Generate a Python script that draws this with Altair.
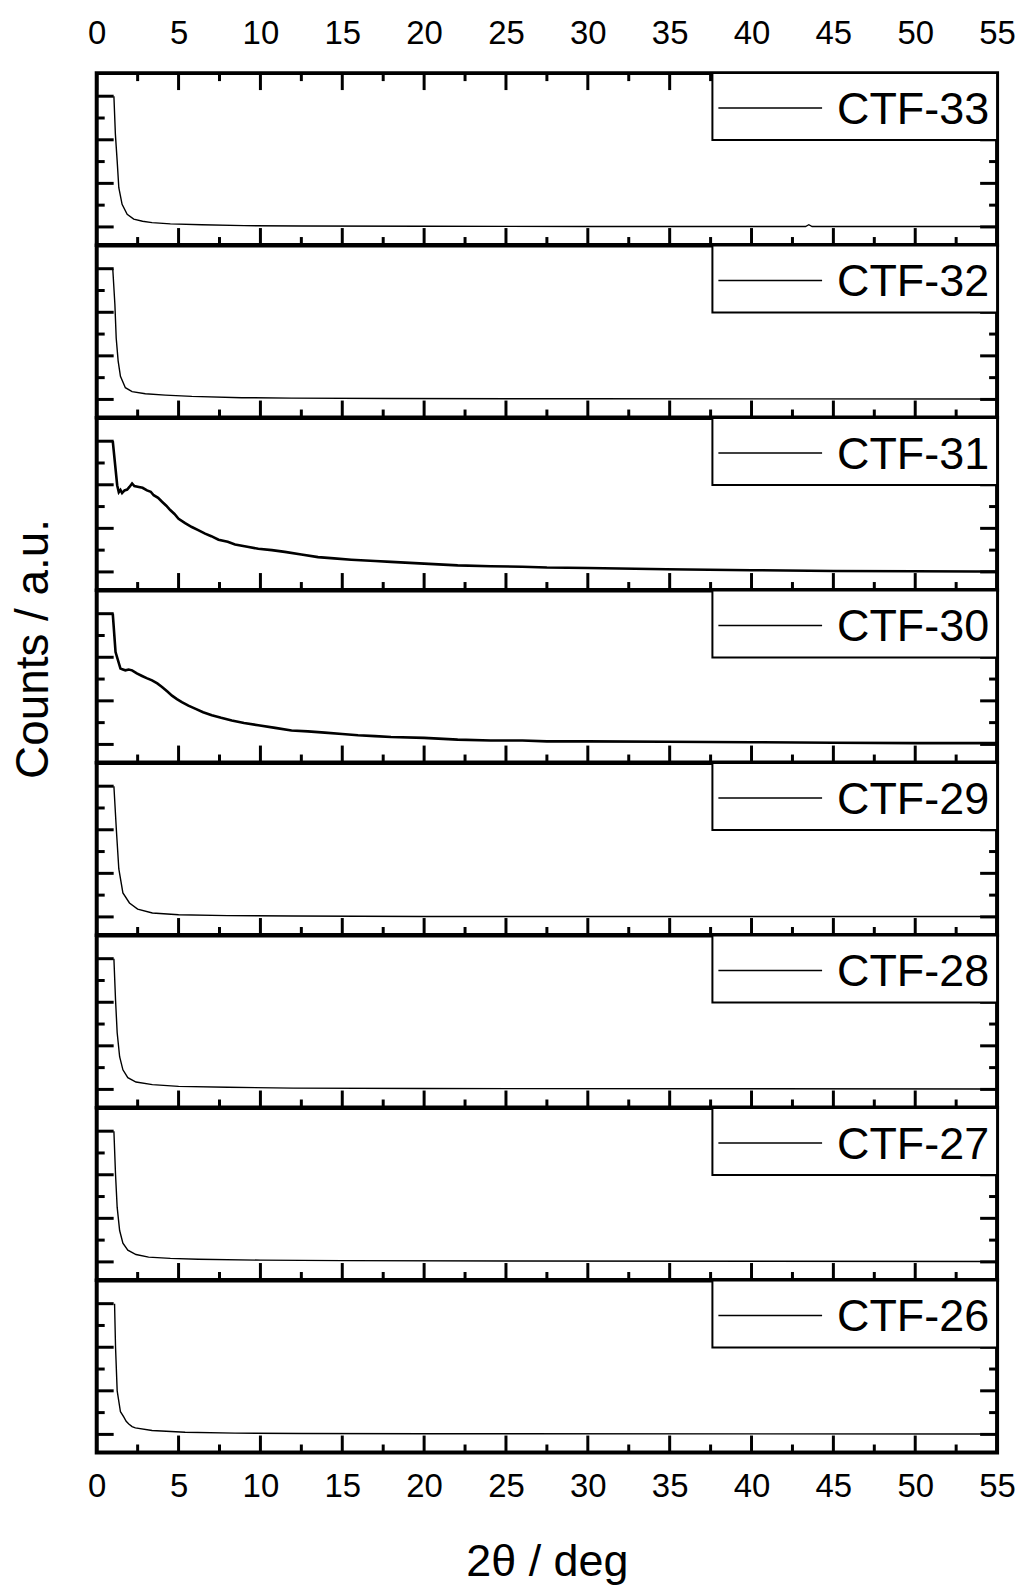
import altair as alt
import pandas as pd

# ---------------- data ----------------
names = ["CTF-33", "CTF-32", "CTF-31", "CTF-30", "CTF-29", "CTF-28", "CTF-27", "CTF-26"]

x_33 = [1.05, 1.14, 1.25, 1.35, 1.55, 1.86, 2.26, 2.8, 3.38, 4.5, 6.42, 9.0, 12.5, 20.0, 30.0, 43.3, 43.5, 43.7, 55.0]
y_33 = [3.0, 2.13, 1.51, 0.90, 0.52, 0.29, 0.18, 0.13, 0.10, 0.07, 0.05, 0.03, 0.02, 0.015, 0.01, 0.01, 0.05, 0.01, 0.01]

x_32 = [0.98, 1.11, 1.19, 1.31, 1.45, 1.75, 2.16, 2.97, 4.19, 5.81, 8.86, 11.9, 17.98, 30.0, 55.0]
y_32 = [3.0, 2.18, 1.41, 0.88, 0.53, 0.27, 0.18, 0.13, 0.10, 0.07, 0.04, 0.03, 0.02, 0.015, 0.01]

x_31 = [0.98, 1.25, 1.35, 1.45, 1.55, 1.7, 1.86, 2.0, 2.16, 2.3, 2.57, 2.8, 3.07, 3.3, 3.48, 3.75,
        3.99, 4.25, 4.49, 4.75, 5.0, 5.4, 5.81, 6.2, 6.62, 7.0, 7.44, 8.0, 8.45, 9.2, 9.87, 10.7,
        11.49, 12.5, 13.52, 14.5, 15.55, 17.0, 17.98, 20.0, 22.05, 24.07, 26.0, 27.5, 30.0, 34.8,
        40.0, 45.0, 50.0, 53.7, 55.0]
y_31 = [3.0, 1.99, 1.83, 1.88, 1.81, 1.87, 1.89, 1.95, 2.03, 1.97, 1.95, 1.93, 1.87, 1.84, 1.76, 1.70,
        1.61, 1.52, 1.42, 1.33, 1.22, 1.12, 1.03, 0.96, 0.88, 0.82, 0.74, 0.69, 0.63, 0.58, 0.53, 0.50,
        0.46, 0.40, 0.34, 0.31, 0.28, 0.25, 0.23, 0.19, 0.15, 0.13, 0.12, 0.10, 0.09, 0.06,
        0.04, 0.02, 0.015, 0.01, 0.01]

x_30 = [0.98, 1.15, 1.45, 1.6, 1.75, 1.95, 2.16, 2.45, 2.77, 3.05, 3.38, 3.7, 3.99, 4.3, 4.6, 4.9,
        5.2, 5.6, 6.01, 6.5, 7.03, 7.6, 8.25, 9.0, 9.87, 10.9, 11.9, 12.9, 13.93, 15.0, 15.96, 17.0,
        17.98, 20.0, 22.05, 24.07, 26.0, 27.5, 30.0, 34.8, 40.0, 45.0, 50.0, 55.0]
y_30 = [3.0, 2.12, 1.74, 1.72, 1.70, 1.72, 1.70, 1.63, 1.57, 1.52, 1.47, 1.40, 1.32, 1.22, 1.12, 1.04,
        0.97, 0.89, 0.82, 0.74, 0.67, 0.61, 0.55, 0.49, 0.44, 0.38, 0.32, 0.30, 0.27, 0.24, 0.21, 0.19,
        0.17, 0.15, 0.11, 0.09, 0.09, 0.07, 0.07, 0.06, 0.05, 0.04, 0.03, 0.03]

x_29 = [1.05, 1.2, 1.35, 1.6, 2.0, 2.5, 3.4, 5.0, 8.0, 12.0, 20.0, 55.0]
y_29 = [3.0, 2.0, 1.1, 0.55, 0.32, 0.18, 0.09, 0.05, 0.03, 0.02, 0.01, 0.01]

x_28 = [1.05, 1.15, 1.25, 1.4, 1.6, 1.9, 2.4, 3.4, 5.0, 8.0, 12.0, 20.0, 55.0]
y_28 = [3.0, 2.05, 1.3, 0.75, 0.45, 0.27, 0.17, 0.11, 0.07, 0.05, 0.03, 0.02, 0.01]

x_27 = [1.05, 1.15, 1.25, 1.4, 1.6, 1.9, 2.4, 3.17, 4.5, 6.2, 10.0, 15.0, 25.0, 55.0]
y_27 = [3.0, 2.0, 1.25, 0.72, 0.43, 0.27, 0.17, 0.11, 0.08, 0.06, 0.04, 0.03, 0.02, 0.01]

x_26 = [1.09, 1.15, 1.25, 1.45, 1.65, 1.8, 1.96, 2.16, 2.36, 3.38, 5.4, 8.45, 12.5, 20.0, 55.0]
y_26 = [3.0, 2.0, 1.0, 0.52, 0.40, 0.30, 0.24, 0.18, 0.15, 0.09, 0.05, 0.03, 0.02, 0.015, 0.01]

series_x = [x_33, x_32, x_31, x_30, x_29, x_28, x_27, x_26]
series_y = [y_33, y_32, y_31, y_30, y_29, y_28, y_27, y_26]
noisy = ["CTF-31", "CTF-30"]

x_labels = [0, 5, 10, 15, 20, 25, 30, 35, 40, 45, 50, 55]
x_minor = [2.5, 7.5, 12.5, 17.5, 22.5, 27.5, 32.5, 37.5, 42.5, 47.5, 52.5]
y_major = [0, 1, 2, 3]
y_minor = [0.5, 1.5, 2.5]

# ---------------- layout ----------------
W = 903
H = 172.4
FONT = "Liberation Sans"
MAJ = 17
MIN = 8


def panel(i):
    name = names[i]
    last = len(names) - 1
    df = pd.DataFrame({"x": series_x[i], "y": series_y[i], "name": name})
    nm = pd.DataFrame({"name": [name]})

    if i == 0:
        xaxis = alt.Axis(orient="top", values=x_labels, title=None, labelFontSize=33,
                         labelPadding=23, ticks=False, domain=False, grid=False, labelFlush=False)
    elif i == last:
        xaxis = alt.Axis(orient="bottom", values=x_labels, title="2θ / deg", titleFontSize=45,
                         titlePadding=36, labelFontSize=33, labelPadding=18, ticks=False,
                         domain=False, grid=False, labelFlush=False)
    else:
        xaxis = None

    if i == 3:
        yaxis = alt.Axis(title="Counts / a.u.", labels=False, ticks=False, domain=False, grid=False,
                         titleFontSize=46, titleY=58, titleX=-63, titleBaseline="middle")
    else:
        yaxis = None

    xs = alt.Scale(domain=[0, 55], nice=False, zero=False)
    ys = alt.Scale(domain=[-0.415, 3.53], nice=False, zero=False)

    def X(f):
        return alt.X(f, type="quantitative", scale=xs, axis=xaxis)

    def Y(f):
        return alt.Y(f, type="quantitative", scale=ys, axis=yaxis)

    layers = []
    # x ticks (inward, bottom edge)
    layers.append(alt.Chart(pd.DataFrame({"t": x_labels})).mark_rule(color="black", strokeWidth=3)
                  .encode(x=X("t"), y=alt.value(H), y2=alt.value(H - MAJ)))
    layers.append(alt.Chart(pd.DataFrame({"t": x_minor})).mark_rule(color="black", strokeWidth=3)
                  .encode(x=X("t"), y=alt.value(H), y2=alt.value(H - MIN)))
    if i == 0:
        layers.append(alt.Chart(pd.DataFrame({"t": x_labels})).mark_rule(color="black", strokeWidth=3)
                      .encode(x=X("t"), y=alt.value(0), y2=alt.value(MAJ)))
        layers.append(alt.Chart(pd.DataFrame({"t": x_minor})).mark_rule(color="black", strokeWidth=3)
                      .encode(x=X("t"), y=alt.value(0), y2=alt.value(MIN)))
    # y ticks left and right (inward)
    for vals, ln in ((y_major, MAJ), (y_minor, MIN)):
        d = pd.DataFrame({"t": vals})
        layers.append(alt.Chart(d).mark_rule(color="black", strokeWidth=3)
                      .encode(y=Y("t"), x=alt.value(0), x2=alt.value(ln)))
        layers.append(alt.Chart(d).mark_rule(color="black", strokeWidth=3)
                      .encode(y=Y("t"), x=alt.value(W - ln), x2=alt.value(W)))
    # data line
    sw = 2.6 if name in noisy else 1.4
    layers.append(alt.Chart(df).mark_line(color="black", strokeWidth=sw, clip=True)
                  .encode(x=X("x"), y=Y("y")))
    # legend box
    layers.append(alt.Chart(nm).mark_rect(fill="white", stroke="black", strokeWidth=2)
                  .encode(x=alt.value(617.5), x2=alt.value(W), y=alt.value(0), y2=alt.value(67)))
    layers.append(alt.Chart(nm).mark_rule(color="black", strokeWidth=1.5)
                  .encode(x=alt.value(623.5), x2=alt.value(727.5), y=alt.value(35)))
    layers.append(alt.Chart(nm).mark_text(align="right", baseline="alphabetic", fontSize=45,
                                          font=FONT, color="black")
                  .encode(x=alt.value(895), y=alt.value(51), text="name:N"))

    return alt.layer(*layers).properties(width=W, height=H)


chart = (
    alt.vconcat(*[panel(i) for i in range(len(names))], spacing=0, bounds="flush")
    .properties(padding={"left": 8, "top": 13, "right": 5, "bottom": 5})
    .configure_view(stroke="black", strokeWidth=4)
    .configure_axis(labelFont=FONT, titleFont=FONT, labelColor="black", titleColor="black",
                    titleFontWeight="normal")
    .configure_concat(spacing=0)
)

chart.save("out.html", embed_options={"renderer": "svg", "actions": False})
